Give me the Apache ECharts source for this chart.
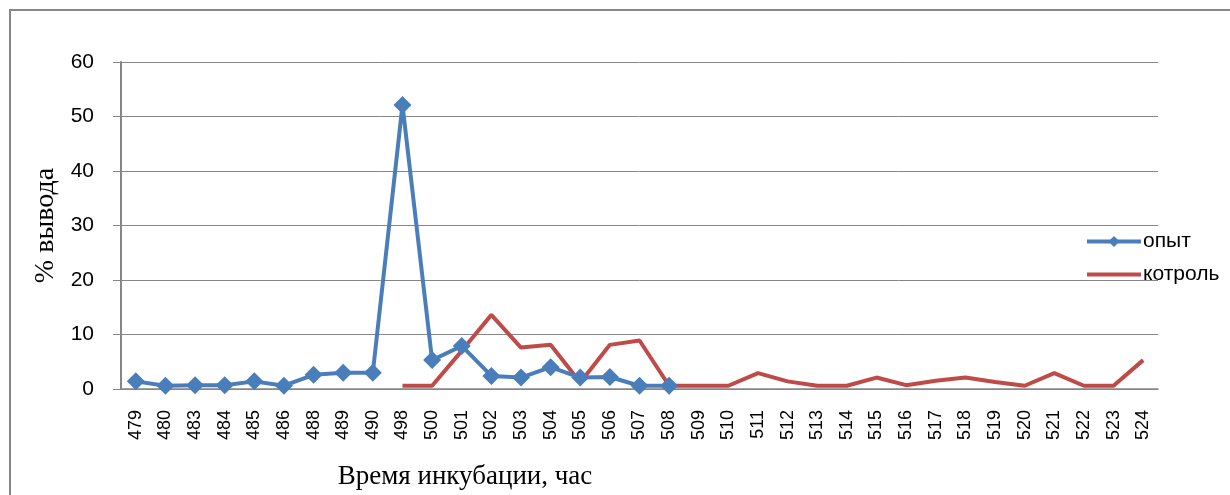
<!DOCTYPE html>
<html>
<head>
<meta charset="utf-8">
<script src="https://cdn.jsdelivr.net/npm/echarts@6/dist/echarts.min.js"></script>
<style>
  html, body { margin: 0; padding: 0; background: #fff; }
  #chart { width: 1230px; height: 495px; }
</style>
</head>
<body>
<div id="chart"></div>
<script>
const hours = ['479', '480', '483', '484', '485', '486', '488', '489', '490', '498',
  '500', '501', '502', '503', '504', '505', '506', '507', '508', '509', '510',
  '511', '512', '513', '514', '515', '516', '517', '518', '519', '520', '521',
  '522', '523', '524'];

// опыт: ends at 508
const opyt = [1.4, 0.6, 0.7, 0.7, 1.4, 0.6, 2.6, 3.0, 3.0, 52.1,
  5.3, 7.9, 2.4, 2.1, 4.0, 2.1, 2.2, 0.6, 0.6,
  null, null, null, null, null, null, null, null, null, null, null, null, null, null, null, null];

// котроль: starts at 498
const kontrol = [null, null, null, null, null, null, null, null, null, 0.6,
  0.6, 7.0, 13.6, 7.6, 8.1, 1.2, 8.1, 8.9, 0.6, 0.6, 0.6,
  2.9, 1.4, 0.6, 0.6, 2.1, 0.7, 1.5, 2.1, 1.3, 0.6, 2.9,
  0.6, 0.6, 5.3];

const chart = echarts.init(document.getElementById('chart'));

const gray = '#868686';

chart.setOption({
  animation: false,
  graphic: [{
    type: 'rect',
    shape: { x: 10, y: 10, width: 1240, height: 520 },
    style: { fill: 'none', stroke: gray, lineWidth: 2 },
    silent: true
  }, {
    // x axis title sits left of the plot centre in the original
    type: 'text',
    x: 465,
    y: 477,
    style: {
      text: 'Время инкубации, час',
      fontFamily: 'Liberation Serif',
      fontSize: 27,
      fill: '#000',
      align: 'center',
      verticalAlign: 'middle'
    }
  }],
  grid: { left: 121, top: 62, right: 72, bottom: 106 },
  legend: {
    orient: 'vertical',
    left: 1080,
    top: 226,
    itemWidth: 54,
    itemHeight: 14,
    itemGap: 12,
    lineStyle: { width: 4 },
    textStyle: { fontFamily: 'Liberation Sans', fontSize: 21, color: '#000', padding: [0, 0, 0, -3] },
    data: [
      { name: 'опыт' },
      { name: 'котроль', itemStyle: { opacity: 0 } }
    ]
  },
  xAxis: {
    type: 'category',
    data: hours,
    axisLine: { lineStyle: { color: gray, width: 1.5 } },
    axisTick: { alignWithLabel: false, length: 8, lineStyle: { color: gray } },
    axisLabel: {
      rotate: 90,
      interval: 0,
      margin: 21,
      fontFamily: 'Liberation Sans',
      fontSize: 18,
      color: '#000'
    }
  },
  yAxis: {
    type: 'value',
    min: 0,
    max: 60,
    interval: 10,
    name: '% вывода',
    nameLocation: 'middle',
    nameGap: 61,
    nameTextStyle: { fontFamily: 'Liberation Serif', fontSize: 28, color: '#000' },
    axisLine: { show: true, lineStyle: { color: gray, width: 2 } },
    axisTick: { show: true, length: 8, lineStyle: { color: gray } },
    axisLabel: { margin: 27, fontFamily: 'Liberation Sans', fontSize: 21, color: '#000' },
    splitLine: { lineStyle: { color: gray, width: 1 } }
  },
  series: [
    {
      name: 'опыт',
      type: 'line',
      data: opyt,
      connectNulls: false,
      symbol: 'diamond',
      symbolSize: 18,
      itemStyle: { color: '#4A7EBB' },
      lineStyle: { color: '#4A7EBB', width: 4 },
      z: 3
    },
    {
      name: 'котроль',
      type: 'line',
      data: kontrol,
      symbol: 'none',
      itemStyle: { color: '#BE4B48' },
      lineStyle: { color: '#BE4B48', width: 4 },
      z: 2
    }
  ]
});
</script>
</body>
</html>
